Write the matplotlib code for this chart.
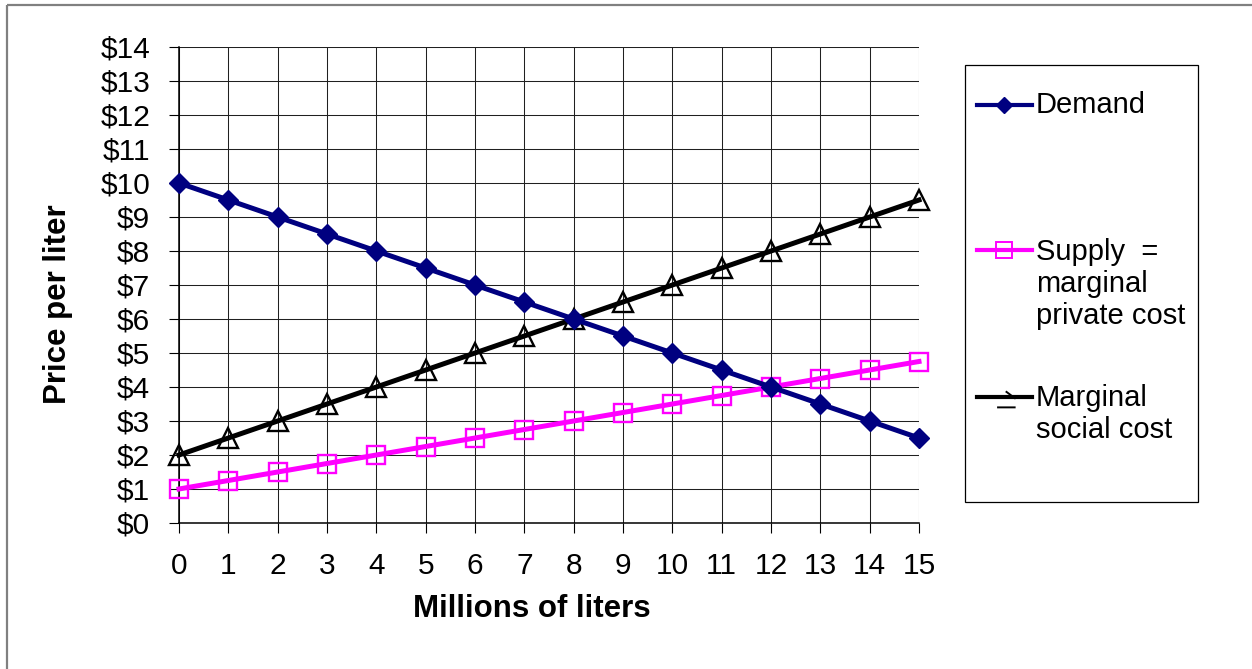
import numpy as np
import matplotlib.pyplot as plt
from matplotlib.lines import Line2D
from matplotlib.patches import Rectangle
from matplotlib.path import Path

plt.rcParams['font.family'] = ['Liberation Sans', 'DejaVu Sans']

# Mengen in Millionen Liter und Preise in $ pro Liter
quantity = [0, 1, 2, 3, 4, 5, 6, 7, 8, 9, 10, 11, 12, 13, 14, 15]
demand = [10, 9.5, 9, 8.5, 8, 7.5, 7, 6.5, 6, 5.5, 5, 4.5, 4, 3.5, 3, 2.5]
supply = [1, 1.25, 1.5, 1.75, 2, 2.25, 2.5, 2.75, 3, 3.25, 3.5, 3.75, 4, 4.25, 4.5, 4.75]
social_cost = [2, 2.5, 3, 3.5, 4, 4.5, 5, 5.5, 6, 6.5, 7, 7.5, 8, 8.5, 9, 9.5]

price_ticks = list(range(0, 15))
price_labels = [f'${p}' for p in price_ticks]

legend_labels = ['Demand', 'Supply  =\nmarginal\nprivate cost', 'Marginal\nsocial cost']

navy = '#000080'
magenta = '#FF00FF'

W, H = 1252, 669
fig = plt.figure(figsize=(W / 100, H / 100), dpi=100)
ax = fig.add_axes([179 / W, 1 - 523 / H, (919 - 179) / W, (523 - 47) / H])

ax.plot(quantity, demand, color=navy, lw=3.6, marker='D', ms=9.8,
        mfc=navy, mec=navy, clip_on=False, zorder=4)
ax.plot(quantity, supply, color=magenta, lw=3.6, marker='s', ms=12.5,
        mfc='none', mec=magenta, mew=1.7, clip_on=False, zorder=3)
ax.plot(quantity, social_cost, color='black', lw=3.6, marker='^', ms=14,
        mfc='none', mec='black', mew=1.7, clip_on=False, zorder=3)

ax.set_xlim(0, 15)
ax.set_ylim(0, 14)
ax.set_xticks(quantity)
ax.set_yticks(price_ticks)
ax.set_yticklabels(price_labels)
ax.tick_params(direction='out', length=7.2, width=0.8, pad=13.5, labelsize=21.5)
ax.grid(True, color='#202020', lw=0.75)
ax.set_axisbelow(True)
for side in ['top', 'right']:
    ax.spines[side].set_visible(False)
for side in ['left', 'bottom']:
    ax.spines[side].set_linewidth(1.1)

fig.text(532 / W, 1 - 617 / H, 'Millions of liters', fontsize=22.5,
         fontweight='bold', ha='center', va='baseline')
fig.text(58 / W, 1 - 304 / H, 'Price per liter', fontsize=22.5,
         fontweight='bold', ha='center', va='center', rotation=90)

# Overlay in Pixelkoordinaten für Rahmen und Legende
ov = fig.add_axes([0, 0, 1, 1], zorder=5)
ov.set_xlim(0, W)
ov.set_ylim(H, 0)
ov.axis('off')
ov.patch.set_alpha(0)

ov.add_patch(Rectangle((7, 5), W + 50, H + 50, fill=False,
                       edgecolor='#808080', lw=1.6, clip_on=False))
ov.add_patch(Rectangle((965, 65), 233, 437, fill=False,
                       edgecolor='black', lw=0.9))

half_tri = Path([(0.1, 0.5), (0.9, -0.1), (-0.6, -0.8), (0.9, -0.8)],
                [Path.MOVETO, Path.LINETO, Path.MOVETO, Path.LINETO])

handles = [
    dict(y=105, color=navy, marker='D', ms=8.5, mfc=navy, mec=navy, mew=1),
    dict(y=250, color=magenta, marker='s', ms=11.5, mfc='none', mec=magenta, mew=1.4),
    dict(y=397, color='black', marker=half_tri, ms=16, mfc='none', mec='black', mew=1.4),
]
text_y = [105, 284, 414]

for h, label, ty in zip(handles, legend_labels, text_y):
    y = h.pop('y')
    ov.add_line(Line2D([977, 1032], [y, y], color=h.pop('color'), lw=3.0))
    ov.add_line(Line2D([1004], [y], ls='none', **h))
    ov.text(1036, ty, label, fontsize=21, ha='left', va='center',
            linespacing=1.17)

fig.savefig('out.png', dpi=100)
